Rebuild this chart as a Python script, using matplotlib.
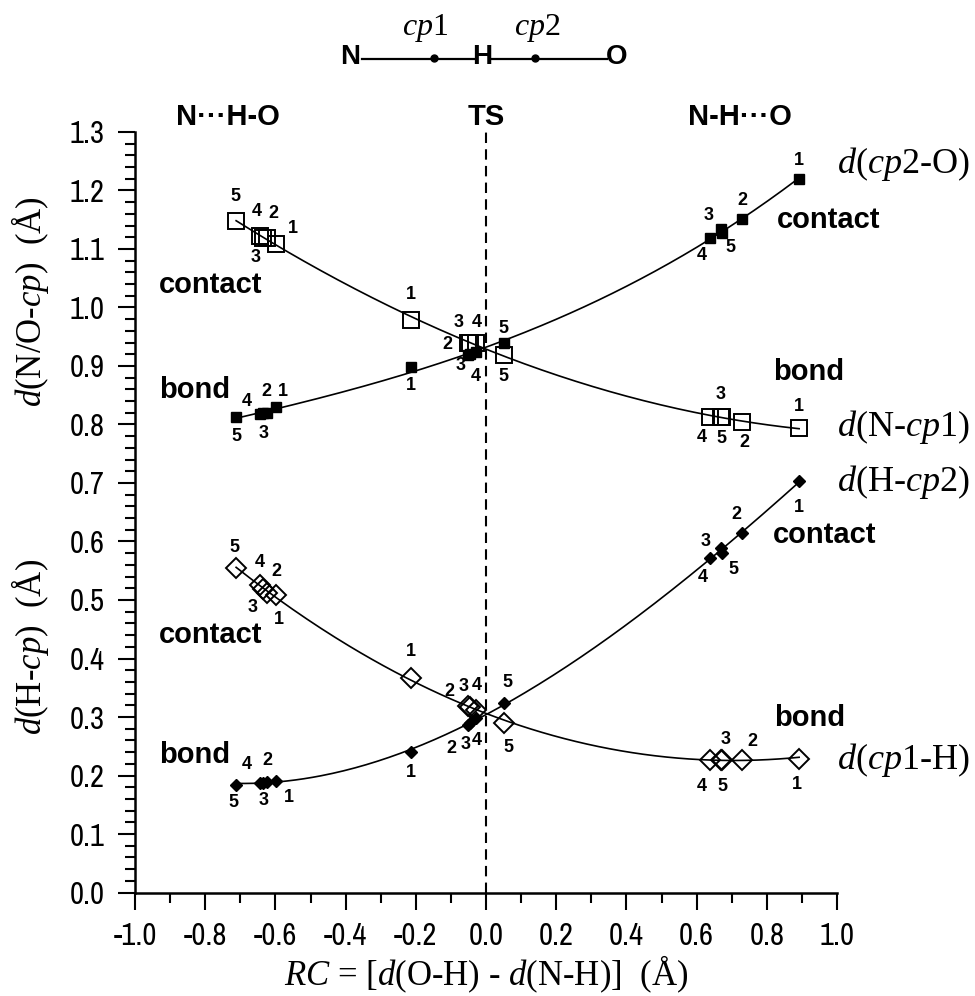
import numpy as np
import matplotlib
matplotlib.use("Agg")
import matplotlib.pyplot as plt
from matplotlib.lines import Line2D
from matplotlib.ticker import MultipleLocator, FormatStrFormatter
from matplotlib import font_manager
import matplotlib.transforms as mtransforms

# RC values: systems 1-5 in N...H-O, near TS, N-H...O
rc = [-0.598, -0.625, -0.635, -0.645, -0.712,
      -0.213, -0.052, -0.045, -0.028, 0.050,
      0.892, 0.730, 0.668, 0.638, 0.672]
num = ["1", "2", "3", "4", "5"] * 3

d_N_cp1 = [1.109, 1.118, 1.119, 1.122, 1.148,
           0.979, 0.940, 0.940, 0.940, 0.919,
           0.794, 0.804, 0.813, 0.813, 0.813]
d_cp2_O = [0.830, 0.820, 0.819, 0.818, 0.813,
           0.898, 0.919, 0.921, 0.924, 0.940,
           1.220, 1.151, 1.134, 1.118, 1.127]
d_cp1_H = [0.509, 0.512, 0.519, 0.526, 0.555,
           0.367, 0.318, 0.317, 0.312, 0.290,
           0.229, 0.227, 0.227, 0.227, 0.227]
d_H_cp2 = [0.190, 0.189, 0.188, 0.188, 0.184,
           0.240, 0.286, 0.290, 0.298, 0.324,
           0.703, 0.615, 0.589, 0.572, 0.580]

# label offsets (pixels) for the point numbers
off_N_cp1 = [(17, 15), (7, 25), (-8, -20), (-3, 25), (-1, 24),
             (0, 25), (-20, -2), (-12, 20), (1, 20), (0, -22),
             (0, 21), (2, -20), (0, 22), (-8, -21), (0, -22)]
off_cp2_O = [(7, 15), (0, 21), (0, -20), (-13, 12), (0, -20),
             (0, -18), None, (-10, -12), (0, -25), (0, 14),
             (0, 18), (0, 19), (-12, 14), (-8, -17), (9, -14)]
off_cp1_H = [(3, -25), (10, 21), (-11, -19), (0, 22), (-2, 20),
             (0, 26), (-18, 15), (-7, 21), (1, 24), (5, -25),
             (-2, -26), (10, 18), (5, 20), (-8, -27), (1, -27)]
off_H_cp2 = [(13, -16), (1, 21), (0, -18), (-13, 18), (-3, -18),
             (0, -20), (-16, -23), (-5, -22), (1, -22), (4, 20),
             (0, -26), (-6, 18), (-15, 6), (-7, -20), (12, -16)]

plt.rcParams["axes.unicode_minus"] = False
plt.rcParams["mathtext.fontset"] = "custom"
plt.rcParams["mathtext.rm"] = "Liberation Serif"
plt.rcParams["mathtext.it"] = "Liberation Serif:italic"

sans = "Liberation Sans"
serif = "Liberation Serif"
# narrow face for the tick numbers, if one is installed
names = sorted({f.name for f in font_manager.fontManager.ttflist})
narrow = None
for n in names:
    if "Narrow" in n or "Condensed" in n:
        narrow = n
        break
tick_size = 22 if narrow else 19
if narrow is None:
    narrow = sans

fig = plt.figure(figsize=(9.75, 9.96), dpi=100)
ax = fig.add_axes([0.1385, 0.1039, 0.72, 0.7636])

x = np.array(rc)
xs = np.linspace(x.min(), x.max(), 200)

series = [
    (d_N_cp1, "s", 12, "none", 1.4, off_N_cp1),
    (d_cp2_O, "s", 7.5, "black", 1.0, off_cp2_O),
    (d_cp1_H, "D", 10, "none", 1.4, off_cp1_H),
    (d_H_cp2, "D", 6.6, "black", 1.0, off_H_cp2),
]
for yv, mk, ms, fc, mew, offs in series:
    y = np.array(yv)
    p = np.polyfit(x, y, 3)
    ax.plot(xs, np.polyval(p, xs), color="black", lw=1.2, zorder=2)
    ax.plot(x, y, ls="none", marker=mk, ms=ms, mfc=fc, mec="black",
            mew=mew, zorder=3)
    for xi, yi, t, o in zip(x, y, num, offs):
        if o is None:
            continue
        ax.annotate(t, (xi, yi), xytext=o, textcoords="offset pixels",
                    ha="center", va="center", fontsize=13,
                    fontweight="bold", family=sans)

ax.axvline(0, color="black", lw=1.5, ls=(0, (5, 3)), zorder=1)

ax.set_xlim(-1.0, 1.0)
ax.set_ylim(0, 1.3)
ax.xaxis.set_major_locator(MultipleLocator(0.2))
ax.xaxis.set_minor_locator(MultipleLocator(0.1))
ax.yaxis.set_major_locator(MultipleLocator(0.1))
ax.yaxis.set_minor_locator(MultipleLocator(0.02))
ax.xaxis.set_major_formatter(FormatStrFormatter("%.1f"))
ax.yaxis.set_major_formatter(FormatStrFormatter("%.1f"))
for s in ["top", "right"]:
    ax.spines[s].set_visible(False)
for s in ["left", "bottom"]:
    ax.spines[s].set_linewidth(1.8)
ax.tick_params(which="major", direction="out", length=12, width=1.5,
               labelsize=tick_size)
ax.tick_params(which="minor", direction="out", length=7, width=1.5)
ax.tick_params(axis="x", which="major", pad=9)
ax.tick_params(axis="y", which="major", pad=10)
for lab in ax.get_xticklabels() + ax.get_yticklabels():
    lab.set_family(narrow)

ax.set_xlabel(r"$RC$ = [$d$(O-H) - $d$(N-H)]  (Å)", fontsize=25,
              family=serif, labelpad=3)

ylab = mtransforms.blended_transform_factory(ax.transAxes, ax.transData)
ax.text(-0.15, 1.01, r"$d$(N/O-$cp$)  (Å)", transform=ylab, rotation=90,
        ha="center", va="center", fontsize=25, family=serif)
ax.text(-0.15, 0.42, r"$d$(H-$cp$)  (Å)", transform=ylab, rotation=90,
        ha="center", va="center", fontsize=25, family=serif)

# state labels
bold = dict(fontsize=21, fontweight="bold", family=sans, ha="center",
            va="center", clip_on=False)
for tx, ty, s in [(-0.786, 1.039, "contact"), (-0.829, 0.859, "bond"),
                  (0.975, 1.150, "contact"), (0.920, 0.890, "bond"),
                  (-0.786, 0.440, "contact"), (-0.829, 0.235, "bond"),
                  (0.966, 0.611, "contact"), (0.923, 0.298, "bond")]:
    ax.text(tx, ty, s, **bold)

# curve names
for ty, s in [(1.245, r"$d$($cp$2-O)"), (0.796, r"$d$(N-$cp$1)"),
              (0.702, r"$d$(H-$cp$2)"), (0.227, r"$d$($cp$1-H)")]:
    ax.text(1.0, ty, s, fontsize=26, family=serif, ha="left", va="center",
            clip_on=False)

# header
hdr = mtransforms.blended_transform_factory(ax.transData, fig.transFigure)
for hx, s in [(-0.735, "N\u00b7\u00b7\u00b7H-O"), (0.0, "TS"),
              (0.724, "N-H\u00b7\u00b7\u00b7O")]:
    ax.text(hx, 1 - 117 / 996, s, transform=hdr, fontsize=21,
            fontweight="bold", family=sans, ha="center", va="center")

# schematic N--cp1--H--cp2--O
W, H = 975.0, 996.0
def fx(px):
    return px / W
def fy(py):
    return 1 - py / H

for a, b in [(362, 434), (434, 475), (490, 535), (535, 607)]:
    fig.add_artist(Line2D([fx(a), fx(b)], [fy(59), fy(59)], color="black",
                          lw=1.6, transform=fig.transFigure))
for px in [434, 535]:
    fig.add_artist(Line2D([fx(px)], [fy(58)], marker="o", ms=5,
                          color="black", transform=fig.transFigure))
for px, s in [(350, "N"), (482, "H"), (617, "O")]:
    fig.text(fx(px), fy(57), s, fontsize=20, fontweight="bold", family=sans,
             ha="center", va="center")
fig.text(fx(425), fy(28), r"$cp$1", fontsize=23, family=serif,
         ha="center", va="center")
fig.text(fx(537), fy(28), r"$cp$2", fontsize=23, family=serif,
         ha="center", va="center")

fig.savefig("out.png", dpi=100)
